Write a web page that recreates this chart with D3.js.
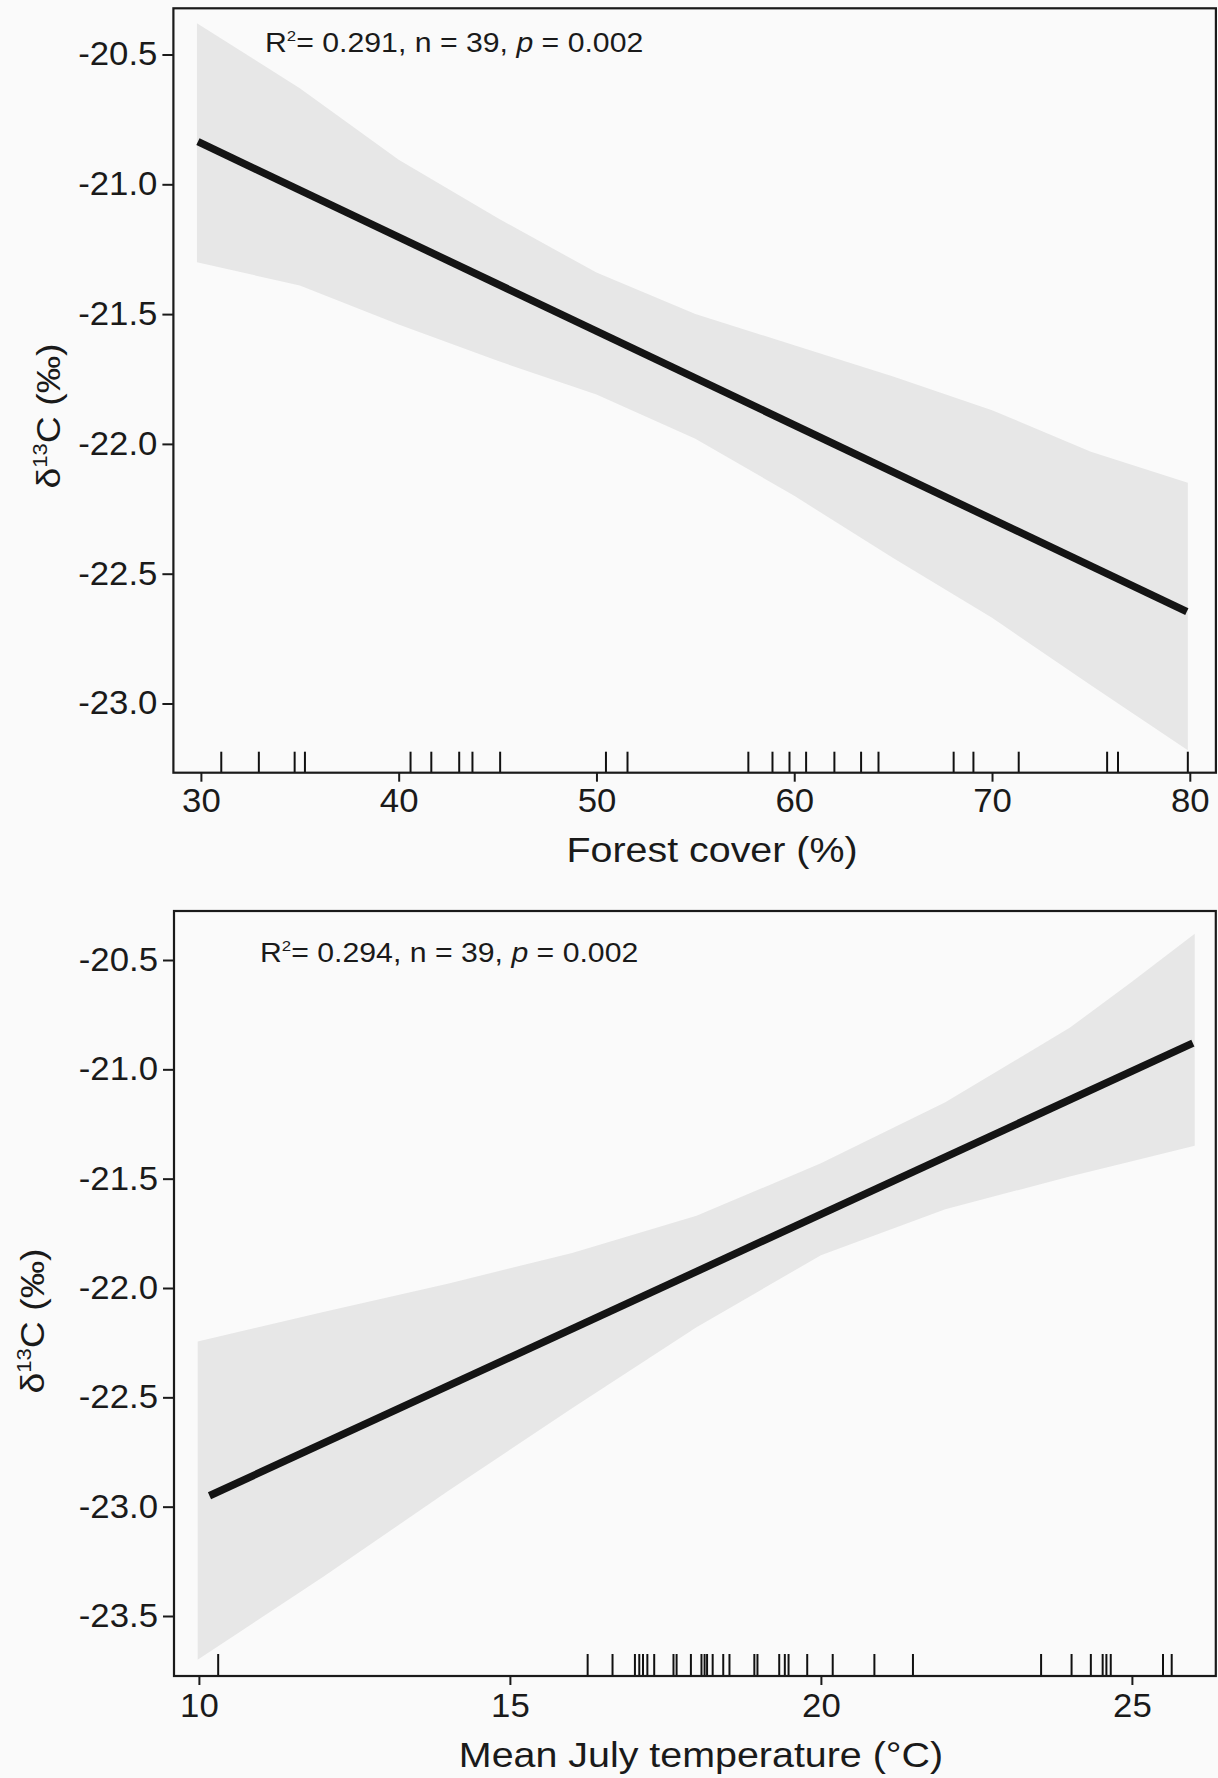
<!DOCTYPE html>
<html><head><meta charset="utf-8">
<script src="https://cdn.jsdelivr.net/npm/d3@7"></script>
<style>
html,body{margin:0;padding:0;background:#fafafa;}
svg{display:block;}
text{font-family:"Liberation Sans",Arial,Helvetica,sans-serif;fill:#1a1a1a;}
</style>
</head><body>
<svg id="chart" width="1218" height="1778"></svg>
<script>
// ---------- Panel A: Forest cover ----------
const forestXTicks = [30, 40, 50, 60, 70, 80];
const forestYTicks = [-20.5, -21.0, -21.5, -22.0, -22.5, -23.0];
const forestLineX = [29.85, 79.85];
const forestLineY = [-20.836, -22.646];
const forestBandX = [29.8, 35, 40, 45, 50, 55, 60, 65, 70, 75, 79.9];
const forestBandUpper = [-20.38, -20.63, -20.905, -21.13, -21.34, -21.50, -21.62, -21.74, -21.87, -22.03, -22.15];
const forestBandLower = [-21.30, -21.39, -21.54, -21.68, -21.81, -21.98, -22.20, -22.44, -22.67, -22.93, -23.18];
const forestRug = [31.03, 32.93, 34.74, 35.26, 40.60, 41.65, 43.06, 43.73, 45.13, 50.48, 51.57,
  57.68, 58.90, 59.76, 60.60, 62.03, 63.38, 64.26, 68.06, 69.06, 71.35, 75.82, 76.37, 79.9];

// ---------- Panel B: Mean July temperature ----------
const tempXTicks = [10, 15, 20, 25];
const tempYTicks = [-20.5, -21.0, -21.5, -22.0, -22.5, -23.0, -23.5];
const tempLineX = [10.17, 25.98];
const tempLineY = [-22.95, -20.88];
const tempBandX = [9.98, 12, 14, 16, 18, 20, 22, 24, 25, 26.01];
const tempBandUpper = [-22.245, -22.11, -21.98, -21.84, -21.67, -21.43, -21.15, -20.81, -20.60, -20.38];
const tempBandLower = [-23.70, -23.32, -22.93, -22.55, -22.18, -21.85, -21.64, -21.49, -21.42, -21.35];
const tempRug = [10.31, 16.25, 16.65, 17.01, 17.08, 17.14, 17.21, 17.32, 17.63, 17.68, 17.91,
  18.08, 18.13, 18.17, 18.26, 18.43, 18.53, 18.93, 18.98, 19.33, 19.42, 19.48, 19.78, 20.19,
  20.86, 21.48, 23.54, 24.03, 24.34, 24.53, 24.59, 24.66, 25.50, 25.64];

// ---------- Labels / statistics ----------
const xTitles = ["Forest cover (%)", "Mean July temperature (\u00B0C)"];
const statR2 = [0.291, 0.294];
const statN = [39, 39];
const statP = [0.002, 0.002];

const svg = d3.select("#chart");
const STRETCH = 1.07;

const panels = [
  { xt: forestXTicks, yt: forestYTicks, lx: forestLineX, ly: forestLineY, bx: forestBandX, bu: forestBandUpper, bl: forestBandLower, rug: forestRug,
    xDom: [30, 80], xRange: [200.9, 1189.8], yDom: [-20.5, -23.0], yRange: [54.5, 703.5],
    frame: {l: 173.4, r: 1215.9, t: 8.3, b: 772.7}, xPad: 7, ann: [265, 51.7], title: [712, 862], yTitle: [60, 416], rugLen: 21 },
  { xt: tempXTicks, yt: tempYTicks, lx: tempLineX, ly: tempLineY, bx: tempBandX, bu: tempBandUpper, bl: tempBandLower, rug: tempRug,
    xDom: [10, 25], xRange: [198.9, 1131.9], yDom: [-20.5, -23.5], yRange: [960, 1616],
    frame: {l: 174, r: 1215.8, t: 911, b: 1676}, xPad: 9, ann: [260, 961.7], title: [701, 1767], yTitle: [44, 1321], rugLen: 22 }
];

panels.forEach((P, k) => {
  const x = d3.scaleLinear().domain(P.xDom).range(P.xRange);
  const y = d3.scaleLinear().domain(P.yDom).range(P.yRange);
  const g = svg.append("g");
  const F = P.frame;

  g.append("rect").attr("x", F.l).attr("y", F.t).attr("width", F.r - F.l).attr("height", F.b - F.t)
    .attr("fill", "#fafafa");

  // confidence band
  const area = d3.area()
    .x(i => x(P.bx[i]))
    .y0(i => y(P.bl[i]))
    .y1(i => y(P.bu[i]));
  g.append("path").attr("d", area(d3.range(P.bx.length))).attr("fill", "#e7e7e7");

  // regression line
  const line = d3.line().x(i => x(P.lx[i])).y(i => y(P.ly[i]));
  g.append("path").attr("d", line(d3.range(P.lx.length)))
    .attr("fill", "none").attr("stroke", "#141414").attr("stroke-width", 7.5);

  // rug
  g.selectAll("line.rug").data(P.rug).join("line").attr("class", "rug")
    .attr("x1", d => x(d)).attr("x2", d => x(d))
    .attr("y1", F.b).attr("y2", F.b - P.rugLen)
    .attr("stroke", "#111").attr("stroke-width", 2);

  // frame
  g.append("rect").attr("x", F.l).attr("y", F.t).attr("width", F.r - F.l).attr("height", F.b - F.t)
    .attr("fill", "none").attr("stroke", "#1a1a1a").attr("stroke-width", 2.2);

  // axes
  const yAxis = d3.axisLeft(y).tickValues(P.yt).tickSize(11).tickPadding(5).tickSizeOuter(0)
    .tickFormat(v => v.toFixed(1));
  const ya = g.append("g").attr("transform", `translate(${F.l},0)`).call(yAxis);
  const xAxis = d3.axisBottom(x).tickValues(P.xt).tickSize(9).tickPadding(P.xPad).tickSizeOuter(0)
    .tickFormat(d3.format("d"));
  const xa = g.append("g").attr("transform", `translate(0,${F.b})`).call(xAxis);
  [ya, xa].forEach(a => {
    a.select(".domain").remove();
    a.selectAll(".tick line").attr("stroke", "#1a1a1a").attr("stroke-width", 2);
    a.selectAll(".tick text").attr("font-size", 32.5).attr("fill", "#1a1a1a")
      .attr("font-family", '"Liberation Sans", Arial, sans-serif')
      .each(function () {
        const tx = +this.getAttribute("x") || 0;
        this.setAttribute("x", 0);
        this.setAttribute("transform", `translate(${tx},0) scale(${STRETCH},1)`);
      });
  });

  // statistics annotation
  const ann = g.append("text").attr("font-size", 27)
    .attr("transform", `translate(${P.ann[0]},${P.ann[1]}) scale(1.12,1)`);
  ann.append("tspan").text("R");
  ann.append("tspan").attr("font-size", 15).attr("dy", -11).text("2");
  ann.append("tspan").attr("dy", 11).text(`= ${d3.format(".3f")(statR2[k])}, n = ${statN[k]}, `);
  ann.append("tspan").attr("font-style", "italic").text("p");
  ann.append("tspan").text(` = ${d3.format(".3f")(statP[k])}`);

  // x title
  g.append("text").attr("font-size", 35.5).attr("text-anchor", "middle")
    .attr("transform", `translate(${P.title[0]},${P.title[1]}) scale(1.11,1)`)
    .text(xTitles[k]);

  // y title
  const yt = g.append("text").attr("font-size", 34).attr("text-anchor", "middle")
    .attr("transform", `translate(${P.yTitle[0]},${P.yTitle[1]}) rotate(-90) scale(1.1,1)`);
  yt.append("tspan").text("\u03B4");
  yt.append("tspan").attr("font-size", 20).attr("dy", -13).text("13");
  yt.append("tspan").attr("dy", 13).text("C (\u2030)");
});
</script>
</body></html>
